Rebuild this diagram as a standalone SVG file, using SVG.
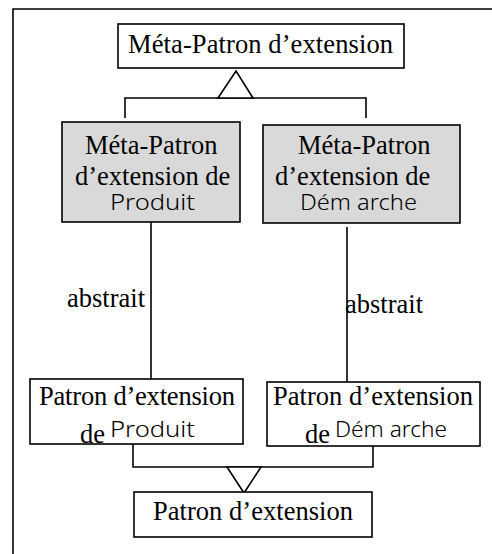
<svg xmlns="http://www.w3.org/2000/svg" width="492" height="554" viewBox="0 0 492 554">
<style>
.box{fill:#fff;stroke:#000;stroke-width:1.6}
.gray{fill:#d9d9d9;stroke:#000;stroke-width:1.6}
.t{font-family:"Liberation Serif","Times New Roman",serif;font-size:26.5px;fill:#000}
.h{font-family:"Noto Sans","DejaVu Sans",sans-serif;font-weight:300;font-size:21px;fill:#000}
.ln{fill:none;stroke:#000;stroke-width:1.6}
.tri{fill:#fff;stroke:#000;stroke-width:1.6}
</style>
<rect width="492" height="554" fill="#fff"/>
<g id="frame">
<path class="ln" d="M13,554 V9 H492"/>
</g>
<g id="connectors">
<path class="ln" d="M125,118 V98 H366 V118"/>
<polygon class="tri" points="236,71 218,98 253,98"/>
<path class="ln" d="M151,222 V381"/>
<path class="ln" d="M347,227 V385"/>
<path class="ln" d="M133,444 V467 H373 V446"/>
<polygon class="tri" points="227,467 261,467 244,493"/>
<text class="t" x="67" y="307">abstrait</text>
<text class="t" x="345" y="313">abstrait</text>
</g>
<g id="meta-patron">
<rect class="box" x="118" y="24" width="286" height="44"/>
<text class="t" x="128" y="53" textLength="265">Méta-Patron d’extension</text>
</g>
<g id="meta-produit">
<rect class="gray" x="62" y="122" width="178" height="100"/>
<text class="t" x="85" y="154">Méta-Patron</text>
<text class="t" x="75" y="185">d’extension de</text>
<text class="h" x="110" y="210" textLength="85" lengthAdjust="spacingAndGlyphs">Produit</text>
</g>
<g id="meta-demarche">
<rect class="gray" x="263" y="125" width="197" height="98"/>
<text class="t" x="298" y="154">Méta-Patron</text>
<text class="t" x="275" y="185">d’extension de</text>
<text class="h" x="300" y="210" textLength="117" lengthAdjust="spacingAndGlyphs">Dém arche</text>
</g>
<g id="patron-produit">
<rect class="box" x="30" y="379" width="213" height="65"/>
<text class="t" x="39" y="405" textLength="196">Patron d’extension</text>
<text class="t" x="80" y="443">de</text>
<text class="h" x="110" y="437" textLength="85" lengthAdjust="spacingAndGlyphs">Produit</text>
</g>
<g id="patron-demarche">
<rect class="box" x="267" y="382" width="213" height="64"/>
<text class="t" x="273" y="405" textLength="200">Patron d’extension</text>
<text class="t" x="305" y="443">de</text>
<text class="h" x="335" y="437" textLength="112" lengthAdjust="spacingAndGlyphs">Dém arche</text>
</g>
<g id="patron">
<rect class="box" x="134" y="492" width="238" height="45"/>
<text class="t" x="153" y="520" textLength="200">Patron d’extension</text>
</g>
</svg>
